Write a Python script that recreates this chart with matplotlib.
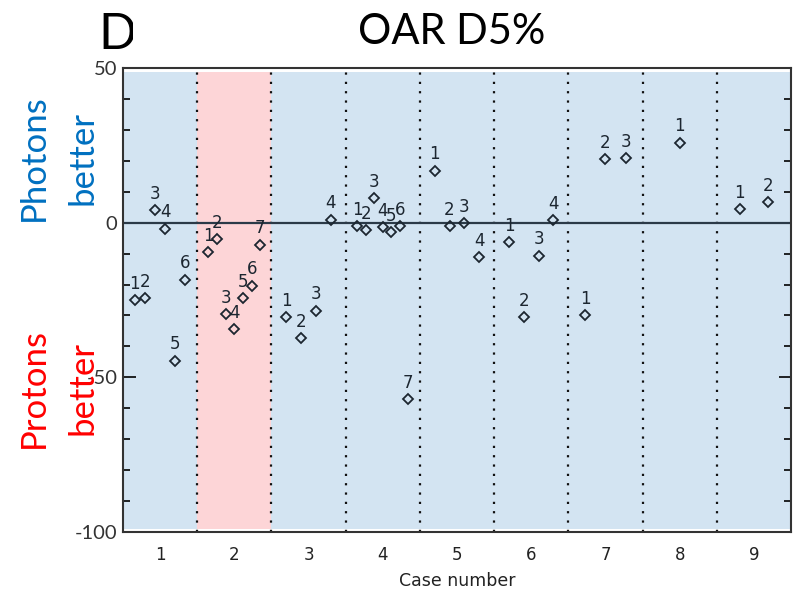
import matplotlib
matplotlib.use('Agg')
import matplotlib.pyplot as plt
import numpy as np
from matplotlib.transforms import Bbox

# OAR D5% differences per case (photons minus protons), one list per case
cases = [1, 2, 3, 4, 5, 6, 7, 8, 9]
case_values = [
    [-25.0, -24.5, 4.0, -2.0, -44.6, -18.4],
    [-9.6, -5.3, -29.5, -34.4, -24.4, -20.4, -7.1],
    [-30.6, -37.3, -28.5, 1.0],
    [-1.2, -2.5, 8.0, -1.4, -3.1, -1.2, -57.0],
    [16.8, -1.2, -0.1, -11.1],
    [-6.3, -30.6, -10.7, 0.8],
    [-30.0, 20.6, 20.9],
    [25.8],
    [4.4, 6.6],
]
# half-width of the horizontal spread of points inside each case column
case_spread = [0.34, 0.35, 0.30, 0.345, 0.30, 0.30, 0.275, 0.0, 0.19]
case_colors = ['#d3e4f2', '#fdd5d7', '#d3e4f2', '#d3e4f2', '#d3e4f2',
               '#d3e4f2', '#d3e4f2', '#d3e4f2', '#d3e4f2']
y_ticks = [50, 0, -50, -100]

fig = plt.figure(figsize=(7.96, 5.90), dpi=100)
ax = fig.add_axes([0.1545, 0.0983, 0.8392, 0.7864])

for c, col in zip(cases, case_colors):
    ax.axvspan(c - 0.5, c + 0.5, ymin=0.007, ymax=0.992, color=col, lw=0, zorder=0)
for c in cases[:-1]:
    ax.axvline(c + 0.5, color='#111111', lw=1.6, ls=(0, (1, 3.2)), zorder=1)
ax.axhline(0, color='#2b3a48', lw=1.6, zorder=2)

ink = '#1c2630'
for c, vals, w in zip(cases, case_values, case_spread):
    n = len(vals)
    xs = np.linspace(c - w, c + w, n) if n > 1 else np.array([float(c)])
    ax.plot(xs, vals, ls='none', marker='D', ms=5, mfc='none', mec=ink, mew=1.3, zorder=3)
    for i, (x, y) in enumerate(zip(xs, vals)):
        ax.text(x, y + 2.4, str(i + 1), ha='center', va='bottom', fontsize=12,
                color=ink, family='DejaVu Sans', zorder=4)

ax.set_xlim(0.5, 9.5)
ax.set_ylim(-100, 50)
ax.set_xticks(cases)
ax.set_xticklabels([str(c) for c in cases], fontsize=12, color='#222222')
ax.tick_params(axis='x', length=0, pad=10)
ax.set_yticks(y_ticks)
ax.set_yticklabels([str(v) for v in y_ticks], fontsize=14.5, color='#333333', family='Lato')
ax.set_yticks(np.arange(-100, 51, 10), minor=True)
ax.tick_params(axis='y', which='major', direction='in', length=9, width=1.2,
               right=True, pad=4)
ax.tick_params(axis='y', which='minor', direction='in', length=5, width=1.2, right=True)
ax.set_xlabel('Case number', fontsize=12.5, color='#222222', labelpad=6)
for s in ax.spines.values():
    s.set_color('#333333')
    s.set_linewidth(1.5)

# side annotations
fig.text(0.042, 0.732, 'Photons', rotation=90, color='#0070c0', fontsize=25,
         family='Lato', ha='center', va='center')
fig.text(0.104, 0.732, 'better', rotation=90, color='#0070c0', fontsize=25,
         family='Lato', ha='center', va='center')
fig.text(0.042, 0.342, 'Protons', rotation=90, color='#ff0000', fontsize=25,
         family='Lato', ha='center', va='center')
fig.text(0.104, 0.342, 'better', rotation=90, color='#ff0000', fontsize=25,
         family='Lato', ha='center', va='center')

fig.text(0.567, 0.945, 'OAR D5%', fontsize=30, family='Lato', ha='center', va='center')
panel = fig.text(0.124, 0.94, 'D', fontsize=36, family='Lato', ha='left', va='center')
panel.set_clip_box(Bbox.from_extents(0, 0, 133, 590))
panel.set_clip_on(True)

fig.savefig('out.png', dpi=100)
